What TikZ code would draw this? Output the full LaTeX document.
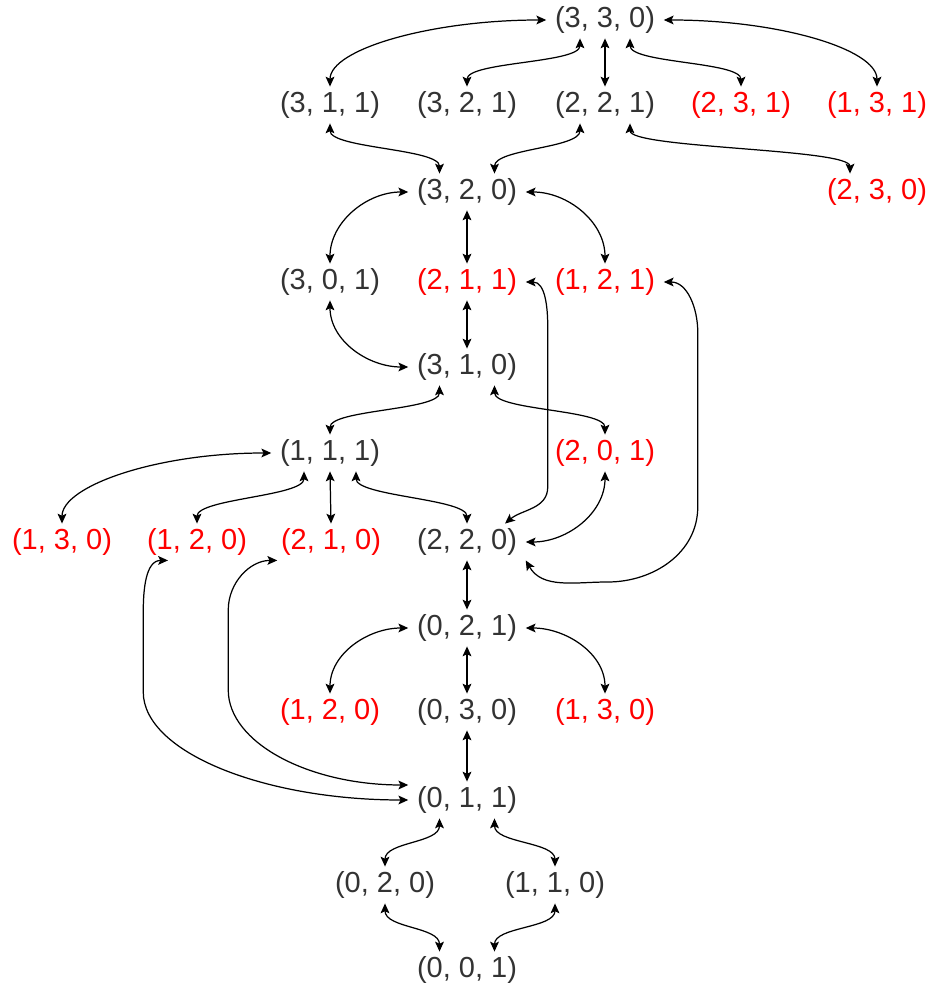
\documentclass[tikz,border=0pt]{standalone}
\usepackage{fontspec}
\setmainfont{Liberation Sans}
\usepackage{tikz}
\usetikzlibrary{arrows.meta}
\definecolor{mtext}{HTML}{333333}
\definecolor{mred}{HTML}{FF0000}
\tikzset{
  sbox/.style={text=mtext, font=\fontsize{16.5}{18}\selectfont,
               inner xsep=4.8pt, inner ysep=2.6pt},
  rbox/.style={sbox, text=mred},
  arr/.style={<->, line width=0.7pt, black},
  sbend/.style={out=-90, in=90, out distance=0.5cm, in distance=0.5cm},
  wide/.style={out distance=2.3cm, in distance=0.75cm},
}

\begin{document}
\begin{tikzpicture}[>={Stealth[length=5.6pt,width=5pt,inset=1.2pt]}]
  \useasboundingbox (0,0) rectangle (18.64,19.74);

  %% ── states, top half ──
  \node[sbox] (n330) at (12.1,19.34) {(3, 3, 0)};
  \node[sbox] (n311) at (6.6,17.64)  {(3, 1, 1)};
  \node[sbox] (n321) at (9.34,17.64) {(3, 2, 1)};
  \node[sbox] (n221) at (12.1,17.64) {(2, 2, 1)};
  \node[rbox] (n231) at (14.82,17.64) {(2, 3, 1)};
  \node[rbox] (n131) at (17.54,17.64) {(1, 3, 1)};
  \node[sbox] (n320) at (9.34,15.90) {(3, 2, 0)};
  \node[rbox] (n230) at (17.54,15.90) {(2, 3, 0)};
  \node[sbox] (n301) at (6.6,14.10)  {(3, 0, 1)};
  \node[rbox] (n211) at (9.34,14.10) {(2, 1, 1)};
  \node[rbox] (n121) at (12.1,14.10) {(1, 2, 1)};
  \node[sbox] (n310) at (9.34,12.40) {(3, 1, 0)};
  \node[sbox] (n111) at (6.6,10.68)  {(1, 1, 1)};
  \node[rbox] (n201) at (12.1,10.68) {(2, 0, 1)};

  %% ── states, bottom half ──
  \node[rbox] (n130)  at (1.24,8.90) {(1, 3, 0)};
  \node[rbox] (n120)  at (3.94,8.90) {(1, 2, 0)};
  \node[rbox] (n210)  at (6.62,8.90) {(2, 1, 0)};
  \node[sbox] (n220)  at (9.34,8.90) {(2, 2, 0)};
  \node[sbox] (n021)  at (9.34,7.18) {(0, 2, 1)};
  \node[rbox] (n120b) at (6.6,5.50)  {(1, 2, 0)};
  \node[sbox] (n030)  at (9.34,5.50) {(0, 3, 0)};
  \node[rbox] (n130b) at (12.1,5.50) {(1, 3, 0)};
  \node[sbox] (n011)  at (9.34,3.74) {(0, 1, 1)};
  \node[sbox] (n020)  at (7.7,2.04)  {(0, 2, 0)};
  \node[sbox] (n110)  at (11.1,2.04) {(1, 1, 0)};
  \node[sbox] (n001)  at (9.34,0.34) {(0, 0, 1)};

  %% ── links from (3,3,0) ──
  \draw[arr] (n330.west) to[out=180, in=90, wide] (n311.north);
  \draw[arr] ([xshift=-5mm]n330.south) to[sbend] (n321.north);
  \draw[arr] (n330.south) -- (n221.north);
  \draw[arr] ([xshift=5mm]n330.south) to[sbend] (n231.north);
  \draw[arr] (n330.east) to[out=0, in=90, wide] (n131.north);

  %% ── second row down to (3,2,0) ──
  \draw[arr] (n311.south) to[sbend] ([xshift=-5.5mm]n320.north);
  \draw[arr] ([xshift=-5mm]n221.south) to[sbend] ([xshift=5.5mm]n320.north);
  \draw[arr] ([xshift=5mm]n221.south) to[sbend] ([xshift=-5.4mm]n230.north);
  \draw[arr] (n320.west) to[out=180, in=90] (n301.north);
  \draw[arr] (n320.south) -- (n211.north);
  \draw[arr] (n320.east) to[out=0, in=90] (n121.north);

  %% ── around (3,1,0) ──
  \draw[arr] (n211.south) -- (n310.north);
  \draw[arr] (n301.south) to[out=-90, in=180] (n310.west);
  \draw[arr] ([xshift=-5.5mm]n310.south) to[sbend] (n111.north);
  \draw[arr] ([xshift=5.5mm]n310.south) to[sbend] (n201.north);

  %% ── long links into (2,2,0) ──
  \draw[arr] (n211.east) to[out=0, in=90] ++(0.44,-0.9) -- ++(0,-3.2)
    to[out=-90, in=40] ([xshift=7.6mm]n220.north);
  \draw[arr] (n121.east) to[out=0, in=90] ++(0.68,-1.0) -- ++(0,-3.5)
    to[out=-90, in=0] ++(-1.8,-1.5) to[out=180, in=-60] (n220.south east);
  \draw[arr] (n201.south) to[out=-90, in=0] (n220.east);

  %% ── around (1,1,1) ──
  \draw[arr] (n111.west) to[out=180, in=90, wide] (n130.north);
  \draw[arr] ([xshift=-5.2mm]n111.south) to[sbend] (n120.north);
  \draw[arr] (n111.south) -- (n210.north);
  \draw[arr] ([xshift=5.2mm]n111.south) to[sbend] (n220.north);

  %% ── lower spine ──
  \draw[arr] (n220.south) -- (n021.north);
  \draw[arr] (n021.west) to[out=180, in=90] (n120b.north);
  \draw[arr] (n021.south) -- (n030.north);
  \draw[arr] (n021.east) to[out=0, in=90] (n130b.north);
  \draw[arr] (n030.south) -- (n011.north);

  %% ── back links from (0,1,1) ──
  \draw[arr] (n011.west) to[out=180, in=-90, out distance=2.9cm, in distance=1.2cm]
    ++(-5.3,2.16) -- ++(0,1.6) to[out=90, in=180] ([xshift=-5.8mm]n120.south);
  \draw[arr] ([yshift=3mm]n011.west) to[out=180, in=-90, out distance=2cm, in distance=1.05cm]
    ++(-3.6,1.9) -- ++(0,1.6) to[out=90, in=180] ([xshift=1mm]n210.south west);

  %% ── bottom diamond ──
  \draw[arr] ([xshift=-5.5mm]n011.south) to[sbend] (n020.north);
  \draw[arr] ([xshift=5.5mm]n011.south) to[sbend] (n110.north);
  \draw[arr] (n020.south) to[sbend] ([xshift=-5.5mm]n001.north);
  \draw[arr] (n110.south) to[sbend] ([xshift=5.5mm]n001.north);
\end{tikzpicture}
\end{document}
